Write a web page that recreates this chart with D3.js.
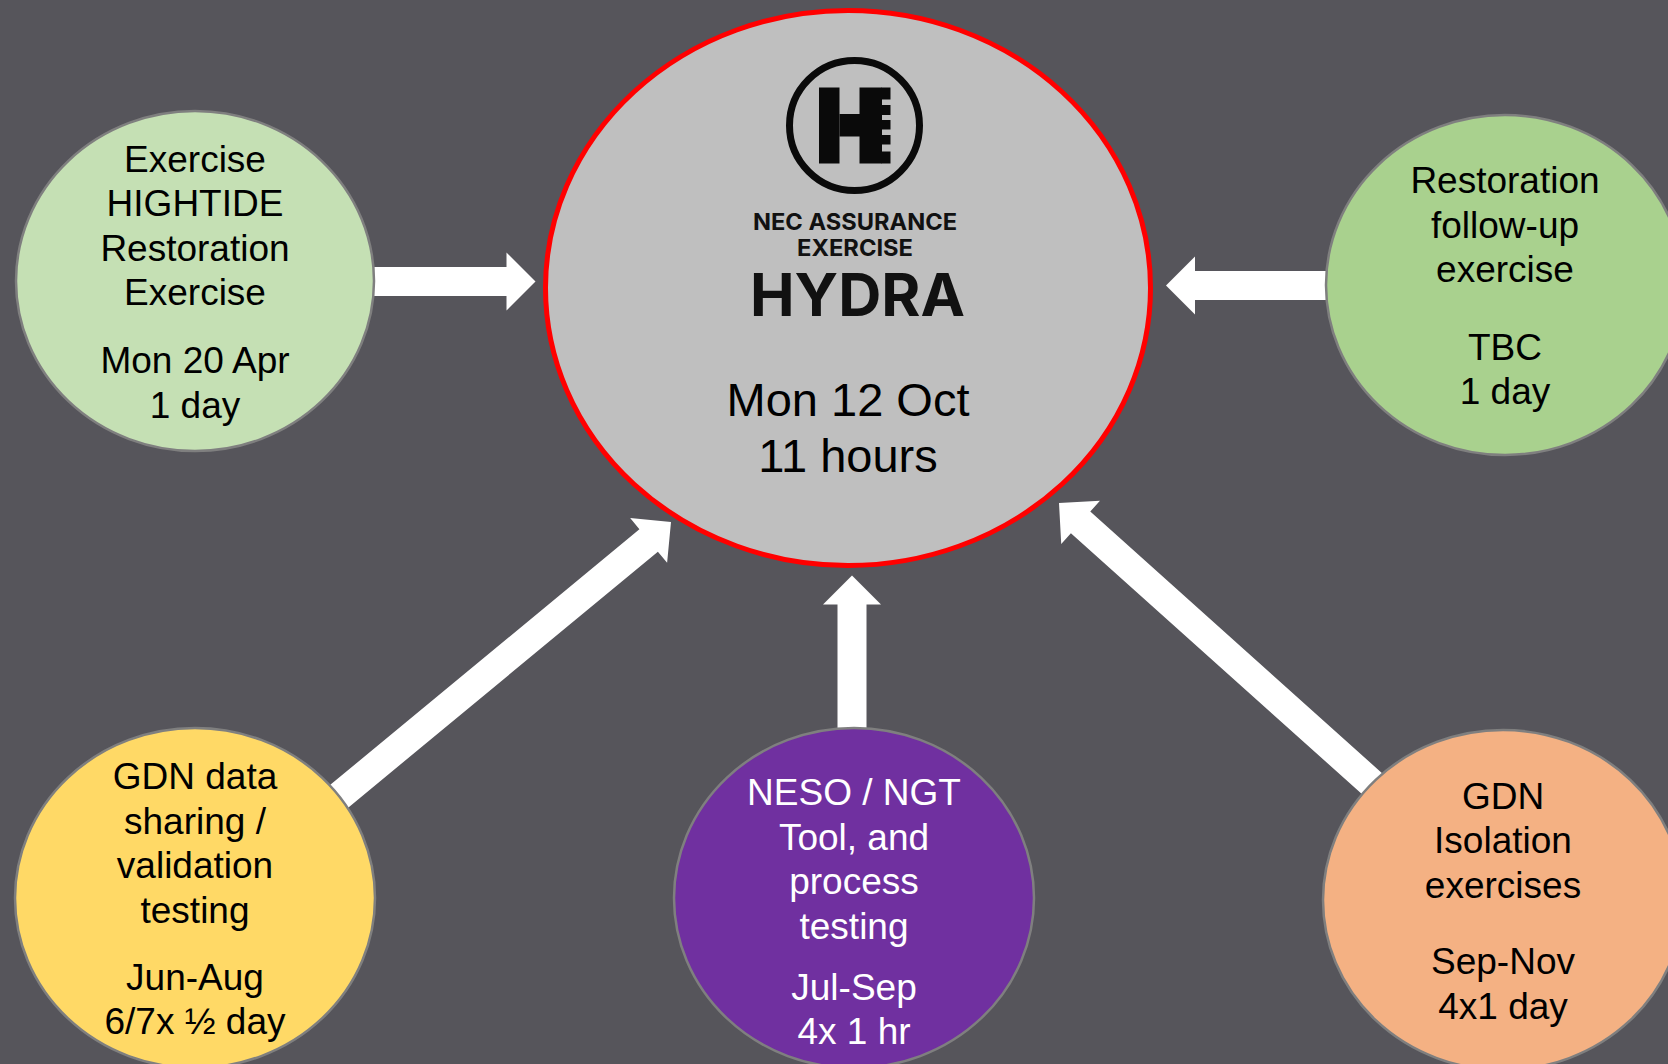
<!DOCTYPE html>
<html>
<head>
<meta charset="utf-8">
<script src="https://cdn.jsdelivr.net/npm/d3@7"></script>
<style>
  html, body { margin: 0; padding: 0; background: #56555b; }
  svg { display: block; }
</style>
</head>
<body>
<div id="chart"></div>
<script>
// text shown in each satellite circle
const nodeNames = ["hightide", "followup", "gdnData", "neso", "gdnIso"];
const nodeLines = [
  ["Exercise", "HIGHTIDE", "Restoration", "Exercise"],
  ["Restoration", "follow-up", "exercise"],
  ["GDN data", "sharing /", "validation", "testing"],
  ["NESO / NGT", "Tool, and", "process", "testing"],
  ["GDN", "Isolation", "exercises"]
];
const nodeWhen = [
  ["Mon 20 Apr", "1 day"],
  ["TBC", "1 day"],
  ["Jun-Aug", "6/7x \u00BD day"],
  ["Jul-Sep", "4x 1 hr"],
  ["Sep-Nov", "4x1 day"]
];
// centre exercise
const hubTitle = ["NEC ASSURANCE", "EXERCISE"];
const hubName = "HYDRA";
const hubWhen = ["Mon 12 Oct", "11 hours"];

// styles
const nodeFill = ["#c5e0b4", "#a9d18e", "#ffd966", "#7030a0", "#f4b183"];
const nodeInk = ["#000", "#000", "#000", "#fff", "#000"];

// layout (px in the 1668x1064 frame)
const width = 1668, height = 1064;
const hub = { cx: 848, cy: 288, rx: 302.5, ry: 277.5 };
const nodePos = [
  { cx: 195, cy: 281, rx: 179, ry: 170, y0: 171.5, gap: 68 },
  { cx: 1505, cy: 285, rx: 179, ry: 170, y0: 193, gap: 77.5 },
  { cx: 195, cy: 898, rx: 180, ry: 170, y0: 789, gap: 67 },
  { cx: 854, cy: 898, rx: 180, ry: 170, y0: 805, gap: 61 },
  { cx: 1503, cy: 900, rx: 180, ry: 170, y0: 808.5, gap: 76.5 }
];
const arrowPos = [
  { tail: [360, 281.5], tip: [535.5, 281.5] },
  { tail: [1340, 285.5], tip: [1166, 285.5] },
  { tail: [325, 808], tip: [671, 522] },
  { tail: [852, 740], tip: [852, 575.5] },
  { tail: [1388, 798], tip: [1059, 503] }
];
const lineGap = 44.5;

const svg = d3.select("#chart")
  .append("svg")
  .attr("width", width)
  .attr("height", height);

svg.append("rect")
  .attr("width", width)
  .attr("height", height)
  .attr("fill", "#56555b");

// block arrows, drawn under the circles
function arrowPoints(a) {
  const [tx, ty] = a.tail, [px, py] = a.tip;
  const len = Math.hypot(px - tx, py - ty);
  const ux = (px - tx) / len, uy = (py - ty) / len;
  const nx = -uy, ny = ux;
  const shaft = 14.5, head = 29, headLen = 29;
  const bx = px - ux * headLen, by = py - uy * headLen;
  return [
    [tx + nx * shaft, ty + ny * shaft],
    [bx + nx * shaft, by + ny * shaft],
    [bx + nx * head, by + ny * head],
    [px, py],
    [bx - nx * head, by - ny * head],
    [bx - nx * shaft, by - ny * shaft],
    [tx - nx * shaft, ty - ny * shaft]
  ];
}

svg.append("g").selectAll("path")
  .data(arrowPos)
  .enter().append("path")
  .attr("d", d => d3.line()(arrowPoints(d)) + "Z")
  .attr("fill", "#fff");

// hub
svg.append("ellipse")
  .attr("cx", hub.cx).attr("cy", hub.cy)
  .attr("rx", hub.rx).attr("ry", hub.ry)
  .attr("fill", "#bfbfbf")
  .attr("stroke", "#ff0000")
  .attr("stroke-width", 5);

// logo
const logo = svg.append("g").attr("transform", "translate(854.5,125.5)");
logo.append("circle")
  .attr("r", 65)
  .attr("fill", "none")
  .attr("stroke", "#0a0a0a")
  .attr("stroke-width", 7);
const hParts = [
  [-35.5, -38, 20.5, 76], [-15, -11.5, 20.5, 22.5], [5, -38, 22.5, 76],
  [27, -38, 9, 12], [27, -20.5, 9, 10], [27, -5.5, 9, 9.5], [27, 9.5, 9, 9.5], [27, 26, 9, 12]
];
logo.selectAll("rect.h")
  .data(hParts)
  .enter().append("rect")
  .attr("class", "h")
  .attr("x", d => d[0]).attr("y", d => d[1])
  .attr("width", d => d[2]).attr("height", d => d[3])
  .attr("fill", "#0a0a0a");

const titleSizes = [23, 23];
svg.append("g").selectAll("text")
  .data(hubTitle)
  .enter().append("text")
  .attr("x", 855)
  .attr("y", (d, i) => 229.5 + i * 26.5)
  .attr("text-anchor", "middle")
  .attr("font-family", "Inter, 'DejaVu Sans', sans-serif")
  .attr("font-weight", 700)
  .attr("font-size", (d, i) => titleSizes[i])
  .attr("textLength", (d, i) => i === 0 ? 204 : 116)
  .attr("lengthAdjust", "spacingAndGlyphs")
  .attr("fill", "#111")
  .text(d => d);

svg.append("text")
  .attr("x", 857.5)
  .attr("y", 316)
  .attr("text-anchor", "middle")
  .attr("font-family", "Inter, 'DejaVu Sans', sans-serif")
  .attr("font-weight", 700)
  .attr("font-size", 59)
  .attr("textLength", 215)
  .attr("lengthAdjust", "spacingAndGlyphs")
  .attr("fill", "#111")
  .text(hubName);

svg.append("g").selectAll("text")
  .data(hubWhen)
  .enter().append("text")
  .attr("x", hub.cx)
  .attr("y", (d, i) => 416 + i * 56)
  .attr("text-anchor", "middle")
  .attr("font-family", "'Liberation Sans', Arial, sans-serif")
  .attr("font-size", 47)
  .attr("fill", "#000")
  .text(d => d);

// satellite circles
const nodes = svg.selectAll("g.node")
  .data(nodeNames)
  .enter().append("g")
  .attr("class", "node")
  .attr("transform", (d, i) => `translate(${nodePos[i].cx},${nodePos[i].cy})`);

nodes.append("ellipse")
  .attr("rx", (d, i) => nodePos[i].rx)
  .attr("ry", (d, i) => nodePos[i].ry)
  .attr("fill", (d, i) => nodeFill[i])
  .attr("stroke", "#7f7f7f")
  .attr("stroke-width", 2.5);

nodes.each(function (d, i) {
  const p = nodePos[i];
  const rows = nodeLines[i].map((t, k) => ({ t, y: p.y0 + k * lineGap }));
  const last = rows[rows.length - 1].y;
  nodeWhen[i].forEach((t, k) => rows.push({ t, y: last + p.gap + k * lineGap }));
  d3.select(this).selectAll("text")
    .data(rows)
    .enter().append("text")
    .attr("x", 0)
    .attr("y", r => r.y - p.cy)
    .attr("text-anchor", "middle")
    .attr("font-family", "'Liberation Sans', Arial, sans-serif")
    .attr("font-size", 37)
    .attr("fill", nodeInk[i])
    .text(r => r.t);
});
</script>
</body>
</html>
